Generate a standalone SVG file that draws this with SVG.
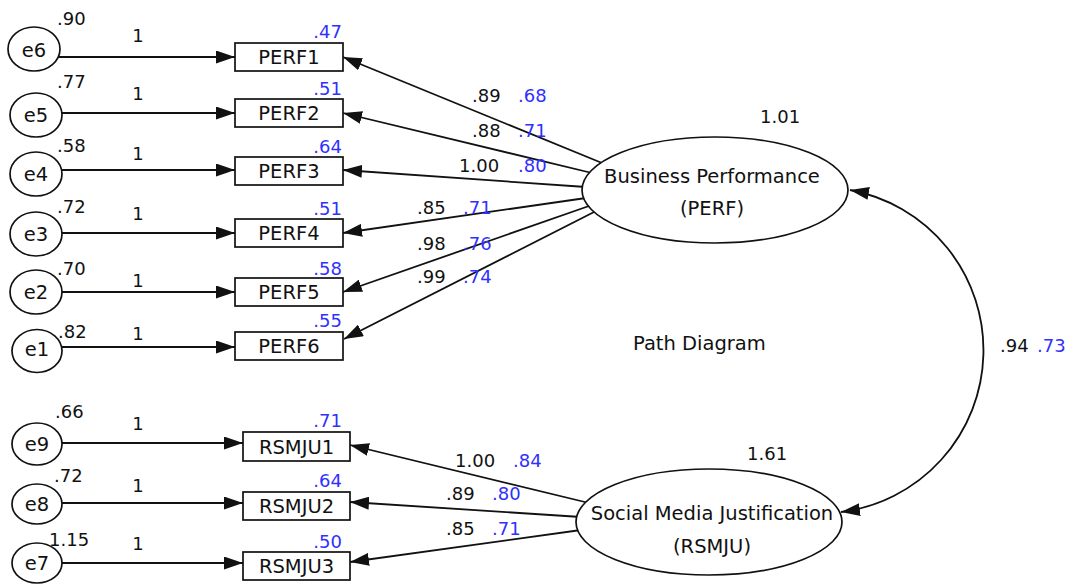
<svg xmlns="http://www.w3.org/2000/svg" width="1071" height="586" viewBox="0 0 1071 586">
  <defs>
    <style>
      .bg { fill: #ffffff; }
      .edge { fill: none; stroke: #111111; stroke-width: 1.8; }
      .node { fill: #ffffff; stroke: #111111; stroke-width: 1.7; }
      .lbl { font-family: "DejaVu Sans", Verdana, sans-serif; font-size: 19.5px; fill: #111111; }
      .num { font-family: "DejaVu Sans", Verdana, sans-serif; font-size: 18px; fill: #111111; }
      .std { font-family: "DejaVu Sans", Verdana, sans-serif; font-size: 18px; fill: #3030ff; }
      .mid { text-anchor: middle; }
      .end { text-anchor: end; }
    </style>
    <marker id="arrow" markerUnits="userSpaceOnUse" markerWidth="19" markerHeight="13" refX="19" refY="6.5" orient="auto">
      <path d="M0,0 L19,6.5 L0,13 Z" fill="#111111"/>
    </marker>
    <marker id="arrow-start" markerUnits="userSpaceOnUse" markerWidth="19" markerHeight="13" refX="19" refY="6.5" orient="auto-start-reverse">
      <path d="M0,0 L19,6.5 L0,13 Z" fill="#111111"/>
    </marker>
  </defs>

  <rect class="bg" x="0" y="0" width="1071" height="586"/>

  <!-- connectors: error terms, loadings and the covariance -->
  <g id="connectors">
    <!-- error term to indicator, fixed weight 1 -->
    <line class="edge" x1="34" y1="57" x2="235" y2="57" marker-end="url(#arrow)"/>
    <line class="edge" x1="36" y1="113" x2="235" y2="113" marker-end="url(#arrow)"/>
    <line class="edge" x1="36" y1="170" x2="235" y2="170" marker-end="url(#arrow)"/>
    <line class="edge" x1="36" y1="233" x2="235" y2="233" marker-end="url(#arrow)"/>
    <line class="edge" x1="36" y1="292" x2="235" y2="292" marker-end="url(#arrow)"/>
    <line class="edge" x1="37" y1="347" x2="235" y2="347" marker-end="url(#arrow)"/>
    <line class="edge" x1="37" y1="443" x2="243" y2="443" marker-end="url(#arrow)"/>
    <line class="edge" x1="37" y1="503" x2="243" y2="503" marker-end="url(#arrow)"/>
    <line class="edge" x1="37" y1="563" x2="243" y2="563" marker-end="url(#arrow)"/>

    <!-- PERF loadings -->
    <line class="edge" x1="602" y1="163" x2="343" y2="57" marker-end="url(#arrow)"/>
    <line class="edge" x1="592" y1="173" x2="343" y2="113" marker-end="url(#arrow)"/>
    <line class="edge" x1="586" y1="187" x2="343" y2="170" marker-end="url(#arrow)"/>
    <line class="edge" x1="586" y1="198" x2="343" y2="233" marker-end="url(#arrow)"/>
    <line class="edge" x1="589" y1="206" x2="343" y2="292" marker-end="url(#arrow)"/>
    <line class="edge" x1="596" y1="211" x2="344" y2="339" marker-end="url(#arrow)"/>

    <!-- RSMJU loadings -->
    <line class="edge" x1="589" y1="503" x2="350" y2="445" marker-end="url(#arrow)"/>
    <line class="edge" x1="581" y1="517" x2="350" y2="502" marker-end="url(#arrow)"/>
    <line class="edge" x1="581" y1="530" x2="350" y2="562" marker-end="url(#arrow)"/>

    <!-- covariance between the two factors -->
    <path class="edge" d="M850,190 A163,163 0 0 1 841,512" marker-start="url(#arrow-start)" marker-end="url(#arrow)"/>
  </g>

  <!-- error terms -->
  <g id="e6"><ellipse class="node" cx="34" cy="49" rx="26" ry="22"/><text class="lbl mid" x="34" y="57">e6</text></g>
  <g id="e5"><ellipse class="node" cx="36" cy="115" rx="26" ry="22"/><text class="lbl mid" x="36" y="122">e5</text></g>
  <g id="e4"><ellipse class="node" cx="36" cy="174" rx="26" ry="22"/><text class="lbl mid" x="36" y="181">e4</text></g>
  <g id="e3"><ellipse class="node" cx="36" cy="234" rx="26" ry="22"/><text class="lbl mid" x="36" y="241">e3</text></g>
  <g id="e2"><ellipse class="node" cx="36" cy="292" rx="26" ry="22"/><text class="lbl mid" x="36" y="299">e2</text></g>
  <g id="e1"><ellipse class="node" cx="37" cy="351" rx="25" ry="21.5"/><text class="lbl mid" x="37" y="356">e1</text></g>
  <g id="e9"><ellipse class="node" cx="37" cy="444" rx="25" ry="21"/><text class="lbl mid" x="37" y="451">e9</text></g>
  <g id="e8"><ellipse class="node" cx="37" cy="504" rx="25" ry="20"/><text class="lbl mid" x="37" y="511">e8</text></g>
  <g id="e7"><ellipse class="node" cx="37" cy="563" rx="25" ry="20"/><text class="lbl mid" x="37" y="570">e7</text></g>

  <!-- observed indicators -->
  <g id="PERF1"><rect class="node" x="235" y="43" width="108" height="28"/><text class="lbl mid" x="289" y="64">PERF1</text></g>
  <g id="PERF2"><rect class="node" x="235" y="99" width="108" height="28"/><text class="lbl mid" x="289" y="120">PERF2</text></g>
  <g id="PERF3"><rect class="node" x="235" y="157" width="108" height="28"/><text class="lbl mid" x="289" y="178">PERF3</text></g>
  <g id="PERF4"><rect class="node" x="235" y="219" width="108" height="28"/><text class="lbl mid" x="289" y="240">PERF4</text></g>
  <g id="PERF5"><rect class="node" x="235" y="278" width="108" height="28"/><text class="lbl mid" x="289" y="299">PERF5</text></g>
  <g id="PERF6"><rect class="node" x="235" y="332" width="108" height="28"/><text class="lbl mid" x="289" y="353">PERF6</text></g>
  <g id="RSMJU1"><rect class="node" x="243" y="432" width="107" height="29"/><text class="lbl mid" x="296.5" y="454">RSMJU1</text></g>
  <g id="RSMJU2"><rect class="node" x="243" y="492" width="107" height="28"/><text class="lbl mid" x="296.5" y="513">RSMJU2</text></g>
  <g id="RSMJU3"><rect class="node" x="243" y="552" width="107" height="28"/><text class="lbl mid" x="296.5" y="573">RSMJU3</text></g>

  <!-- latent factors -->
  <g id="PERF">
    <ellipse class="node" cx="715" cy="190" rx="133" ry="53"/>
    <text class="lbl mid" x="712" y="183">Business Performance</text>
    <text class="lbl mid" x="712" y="215">(PERF)</text>
  </g>
  <g id="RSMJU">
    <ellipse class="node" cx="709" cy="522" rx="133" ry="53"/>
    <text class="lbl mid" x="712" y="520">Social Media Justification</text>
    <text class="lbl mid" x="712" y="553">(RSMJU)</text>
  </g>

  <!-- error variances -->
  <g id="error-variances">
    <text class="num" x="57" y="25">.90</text>
    <text class="num" x="57" y="88">.77</text>
    <text class="num" x="57" y="152">.58</text>
    <text class="num" x="57" y="213">.72</text>
    <text class="num" x="57" y="275">.70</text>
    <text class="num" x="58" y="338">.82</text>
    <text class="num" x="55" y="418">.66</text>
    <text class="num" x="54" y="482">.72</text>
    <text class="num" x="49" y="546">1.15</text>
  </g>

  <!-- fixed error weights -->
  <g id="error-weights">
    <text class="num mid" x="138" y="42">1</text>
    <text class="num mid" x="138" y="100">1</text>
    <text class="num mid" x="138" y="160">1</text>
    <text class="num mid" x="138" y="220">1</text>
    <text class="num mid" x="138" y="287">1</text>
    <text class="num mid" x="138" y="340">1</text>
    <text class="num mid" x="138" y="430">1</text>
    <text class="num mid" x="138" y="492">1</text>
    <text class="num mid" x="138" y="550">1</text>
  </g>

  <!-- squared multiple correlations -->
  <g id="r-squared">
    <text class="std end" x="342" y="38">.47</text>
    <text class="std end" x="342" y="95">.51</text>
    <text class="std end" x="342" y="153">.64</text>
    <text class="std end" x="342" y="215">.51</text>
    <text class="std end" x="342" y="275">.58</text>
    <text class="std end" x="342" y="327">.55</text>
    <text class="std end" x="342" y="427">.71</text>
    <text class="std end" x="342" y="487">.64</text>
    <text class="std end" x="342" y="548">.50</text>
  </g>

  <!-- loadings: unstandardized and standardized -->
  <g id="loadings">
    <text class="num" x="472" y="102">.89</text><text class="std" x="518" y="102">.68</text>
    <text class="num" x="472" y="137">.88</text><text class="std" x="518" y="137">.71</text>
    <text class="num" x="459" y="172">1.00</text><text class="std" x="518" y="172">.80</text>
    <text class="num" x="417" y="214">.85</text><text class="std" x="463" y="214">.71</text>
    <text class="num" x="417" y="250">.98</text><text class="std" x="463" y="250">.76</text>
    <text class="num" x="417" y="283">.99</text><text class="std" x="463" y="283">.74</text>

    <text class="num" x="455" y="467">1.00</text><text class="std" x="513" y="467">.84</text>
    <text class="num" x="446" y="500">.89</text><text class="std" x="492" y="500">.80</text>
    <text class="num" x="446" y="535">.85</text><text class="std" x="492" y="535">.71</text>
  </g>

  <!-- factor variances and covariance -->
  <text class="num" x="760" y="123">1.01</text>
  <text class="num" x="747" y="460">1.61</text>
  <text class="num" x="1000" y="352">.94</text>
  <text class="std" x="1037" y="352">.73</text>

  <text class="lbl" x="633" y="350">Path Diagram</text>
</svg>
